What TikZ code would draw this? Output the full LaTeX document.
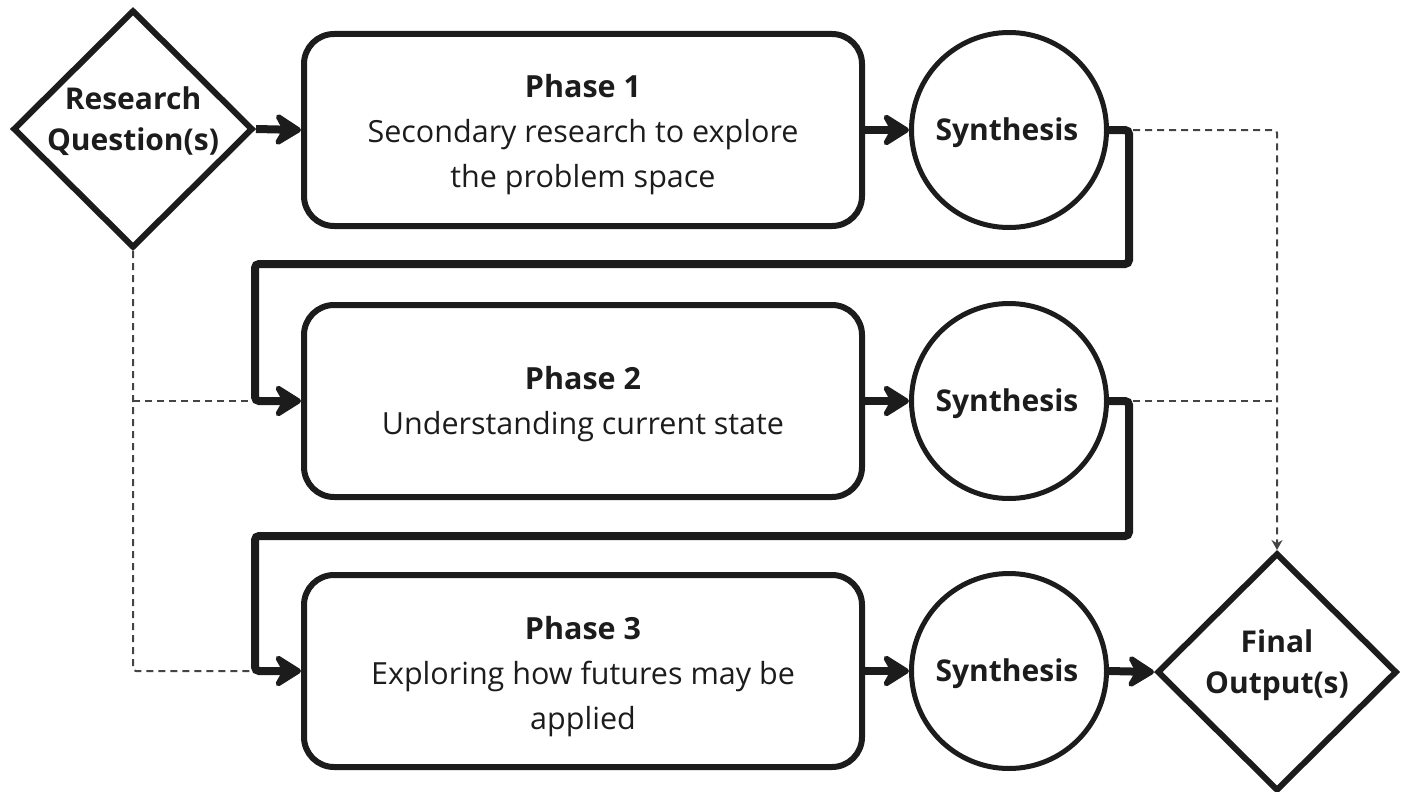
\documentclass[tikz,border=0pt]{standalone}
\usepackage{fontspec}
\setmainfont{Open Sans}
\usetikzlibrary{shapes.geometric,arrows.meta}
\definecolor{ink}{HTML}{1C1C1C}
\definecolor{dashgray}{HTML}{444444}
\tikzset{
  phasebox/.style={draw=ink, line width=6pt, rounded corners=30pt,
    minimum width=558pt, minimum height=192pt, inner sep=0pt},
  phasetext/.style={align=center, font=\fontsize{30.5}{45}\selectfont, text=ink},
  synthcircle/.style={circle, draw=ink, line width=5pt, minimum size=195pt,
    inner sep=0pt},
  synthtext/.style={font=\fontsize{30}{40}\selectfont\bfseries, text=ink},
  decision/.style={diamond, aspect=1, draw=ink, line width=6pt,
    minimum width=240pt, minimum height=238pt, inner sep=0pt},
  decisiontext/.style={align=center, font=\fontsize{30}{41}\selectfont\bfseries, text=ink},
  flow/.style={draw=ink, line width=8pt, rounded corners=4pt,
    -{Stealth[length=32pt, width=40pt, inset=11pt, round]}},
  feed/.style={draw=dashgray, line width=2pt, dash pattern=on 7pt off 5pt,
    rounded corners=3pt},
}
\begin{document}
\begin{tikzpicture}[x=1pt, y=-1pt]
\useasboundingbox (0,0) rectangle (1405,792);

% start and end decisions
\node[decision] (rq) at (133,129) {};
\node[decisiontext] (rqtext) at (133,121) {Research\\Question(s)};
\node[decision] (fo) at (1277,672) {};
\node[decisiontext] (fotext) at (1277,665) {Final\\Output(s)};

% research phases
\node[phasebox] (p1) at (583,130) {};
\node[phasetext] (p1text) at (583,135)
  {\textbf{Phase 1}\\Secondary research to explore\\the problem space};
\node[phasebox] (p2) at (583,401) {};
\node[phasetext] (p2text) at (583,404)
  {\textbf{Phase 2}\\Understanding current state};
\node[phasebox] (p3) at (583,671) {};
\node[phasetext] (p3text) at (583,677)
  {\textbf{Phase 3}\\Exploring how futures may be\\applied};

% synthesis after each phase
\node[synthcircle] (s1) at (1009,130) {};
\node[synthtext] (s1text) at (1007,133) {Synthesis};
\node[synthcircle] (s2) at (1009,401) {};
\node[synthtext] (s2text) at (1007,404) {Synthesis};
\node[synthcircle] (s3) at (1009,671) {};
\node[synthtext] (s3text) at (1007,674) {Synthesis};

% dashed feeds: questions into later phases, syntheses into outputs
\draw[feed] (rq.south) |- (p3.west);
\draw[feed] (rq.south |- p2.west) -- (p2.west);
\draw[feed, -{Stealth[length=10pt, width=11pt]}] (s1.east) -| (fo.north);
\draw[feed] (s2.east) -- (fo.north |- s2.east);

% main flow
\draw[flow] (rq.east) -- (p1.west);
\draw[flow] (p1.east) -- (s1.west);
\draw[flow] (s1.east) -- ++(20,0) |- (255,264) |- (p2.west);
\draw[flow] (p2.east) -- (s2.west);
\draw[flow] (s2.east) -- ++(20,0) |- (255,536) |- (p3.west);
\draw[flow] (p3.east) -- (s3.west);
\draw[flow] (s3.east) -- (fo.west);
\end{tikzpicture}
\end{document}
